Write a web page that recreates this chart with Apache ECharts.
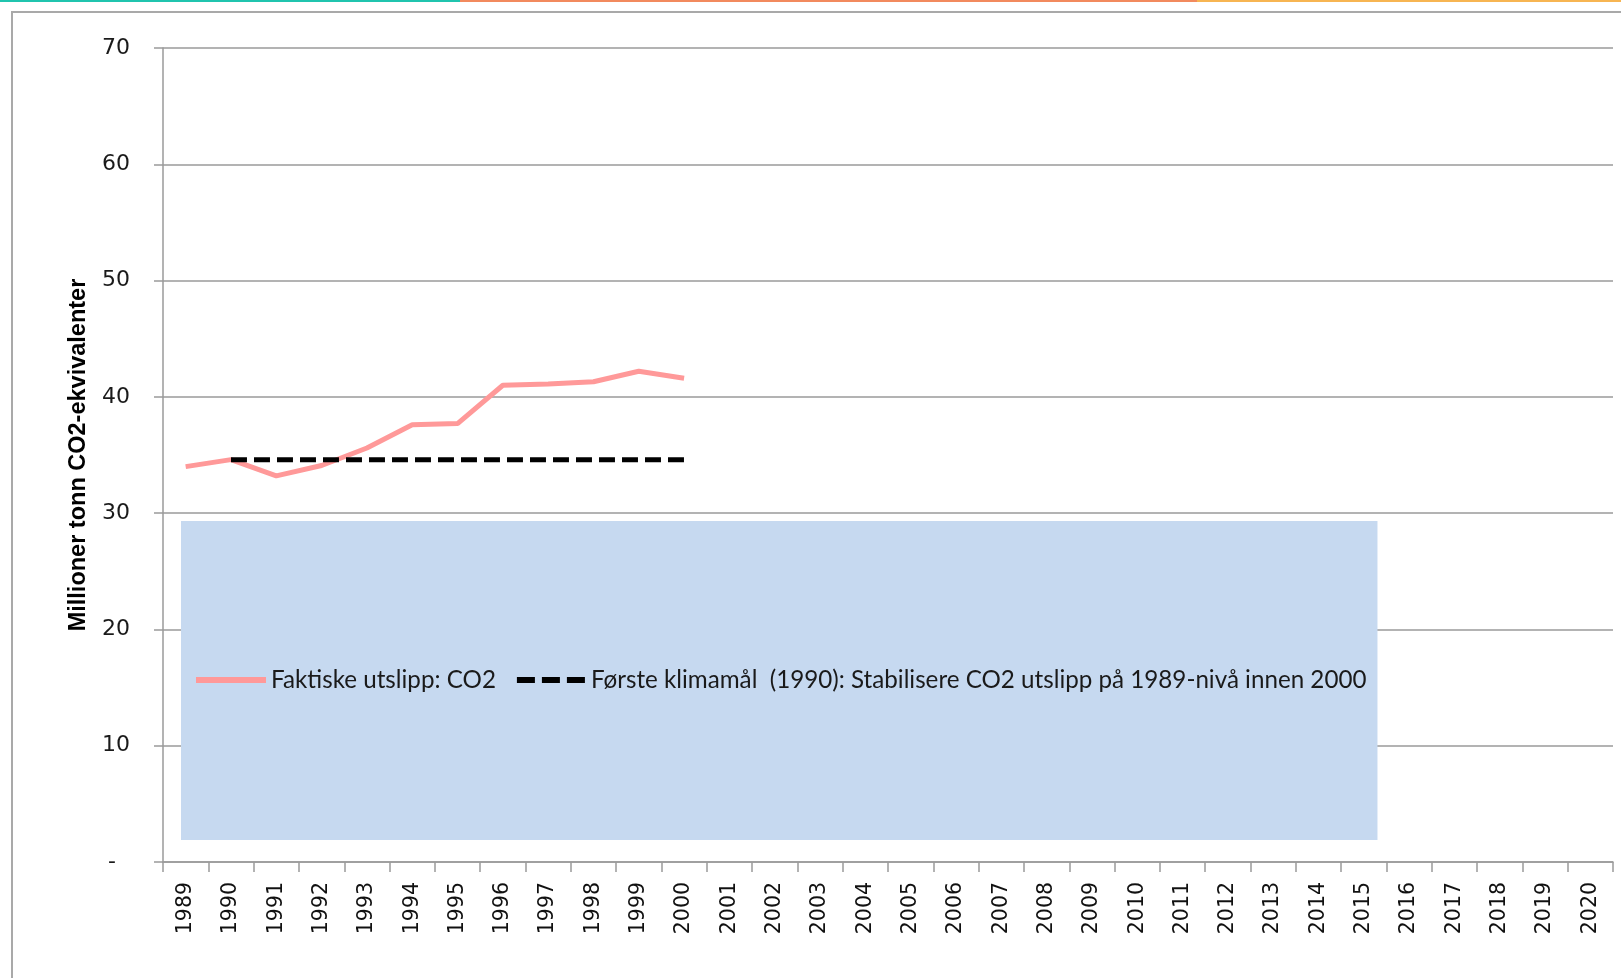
<!DOCTYPE html>
<html>
<head>
<meta charset="utf-8">
<script src="https://cdn.jsdelivr.net/npm/echarts@6/dist/echarts.min.js"></script>
<style>
  html, body { margin: 0; padding: 0; background: #fff; }
  #co2-line-chart { width: 1621px; height: 978px; }
</style>
</head>
<body>
<div id="co2-line-chart"></div>
<script>
var years = [
  '1989', '1990', '1991', '1992', '1993', '1994', '1995', '1996',
  '1997', '1998', '1999', '2000', '2001', '2002', '2003', '2004',
  '2005', '2006', '2007', '2008', '2009', '2010', '2011', '2012',
  '2013', '2014', '2015', '2016', '2017', '2018', '2019', '2020',
];
// 1989-2000
var actualCO2 = [34.0, 34.6, 33.2, 34.1, 35.6, 37.6, 37.7, 41.0, 41.1, 41.3, 42.2, 41.6];
// 1990-2000, first target: flat at the same level
var firstTarget = [null, 34.6, 34.6, 34.6, 34.6, 34.6, 34.6, 34.6, 34.6, 34.6, 34.6, 34.6];
var yMin = 0;
var yMax = 70;
var yStep = 10;

var seriesNames = [
  'Faktiske utslipp: CO2',
  'Første klimamål  (1990): Stabilisere CO2 utslipp på 1989-nivå innen 2000',
];

// legend icons: a solid bar and three dashes
var solidIcon = 'path://M0,0h70v6h-70z';
var dashIcon = 'path://M0,0h18v6h-18zM25,0h18v6h-18zM50,0h18v6h-18z';

var chartDom = document.getElementById('co2-line-chart');
var co2Chart = echarts.init(chartDom, null, { renderer: 'canvas' });
var co2Option;

co2Option = {
  animation: false,
  backgroundColor: '#ffffff',
  graphic: [
    // strip along the top of the page
    { type: 'rect', left: 0, top: 0, shape: { width: 460, height: 2 }, style: { fill: '#20c4ae' } },
    { type: 'rect', left: 460, top: 0, shape: { width: 737, height: 2 }, style: { fill: '#f28a5e' } },
    { type: 'rect', left: 1197, top: 0, shape: { width: 424, height: 2 }, style: { fill: '#f7b552' } },
    // chart frame
    { type: 'rect', left: 11, top: 11, shape: { width: 1610, height: 2 }, style: { fill: '#a9a9a9' } },
    { type: 'rect', left: 11, top: 11, shape: { width: 2, height: 967 }, style: { fill: '#a9a9a9' } },
  ],
  legend: {
    left: 181,
    top: 521,
    orient: 'horizontal',
    backgroundColor: '#c6d9f0',
    padding: [147, 11, 148, 15],
    itemGap: 21,
    itemWidth: 70,
    itemHeight: 6,
    textStyle: {
      fontFamily: 'Lato',
      fontSize: 24.2,
      color: '#1a1a1a',
    },
    data: [
      { name: seriesNames[0], icon: solidIcon },
      { name: seriesNames[1], icon: dashIcon },
    ],
  },
  grid: {
    left: 163,
    right: 8,
    top: 48,
    bottom: 116,
  },
  xAxis: {
    type: 'category',
    data: years,
    boundaryGap: true,
    axisLine: { lineStyle: { color: '#9a9a9a', width: 1.5 } },
    axisTick: { show: true, interval: 0, length: 10, lineStyle: { color: '#9a9a9a', width: 1.5 } },
    axisLabel: {
      interval: 0,
      rotate: 90,
      margin: 20,
      fontFamily: 'DejaVu Sans',
      fontSize: 20.5,
      color: '#111111',
    },
  },
  yAxis: {
    type: 'value',
    min: yMin,
    max: yMax,
    interval: yStep,
    name: 'Millioner tonn CO2-ekvivalenter',
    nameLocation: 'middle',
    nameRotate: 90,
    nameGap: 72,
    nameTextStyle: {
      fontFamily: 'Liberation Sans',
      fontWeight: 'bold',
      fontSize: 23.5,
      color: '#000000',
    },
    axisLine: { show: true, lineStyle: { color: '#9a9a9a', width: 1.5 } },
    axisTick: { show: true, length: 9, lineStyle: { color: '#9a9a9a', width: 1.5 } },
    splitLine: { lineStyle: { color: '#9a9a9a', width: 1.5 } },
    axisLabel: {
      margin: 33,
      fontFamily: 'DejaVu Sans',
      fontSize: 22,
      color: '#1a1a1a',
      formatter: function (v) {
        return v === 0 ? '-  ' : String(v);
      },
    },
  },
  series: [
    {
      name: seriesNames[0],
      type: 'line',
      data: actualCO2,
      symbol: 'none',
      z: 2,
      lineStyle: { color: '#ff9999', width: 5 },
      itemStyle: { color: '#ff9999' },
    },
    {
      name: seriesNames[1],
      type: 'line',
      data: firstTarget,
      symbol: 'none',
      z: 3,
      lineStyle: { color: '#000000', width: 5, type: [16, 7] },
      itemStyle: { color: '#000000' },
    },
  ],
};

if (co2Option && typeof co2Option === 'object') {
  co2Chart.setOption(co2Option);
}
</script>
</body>
</html>
